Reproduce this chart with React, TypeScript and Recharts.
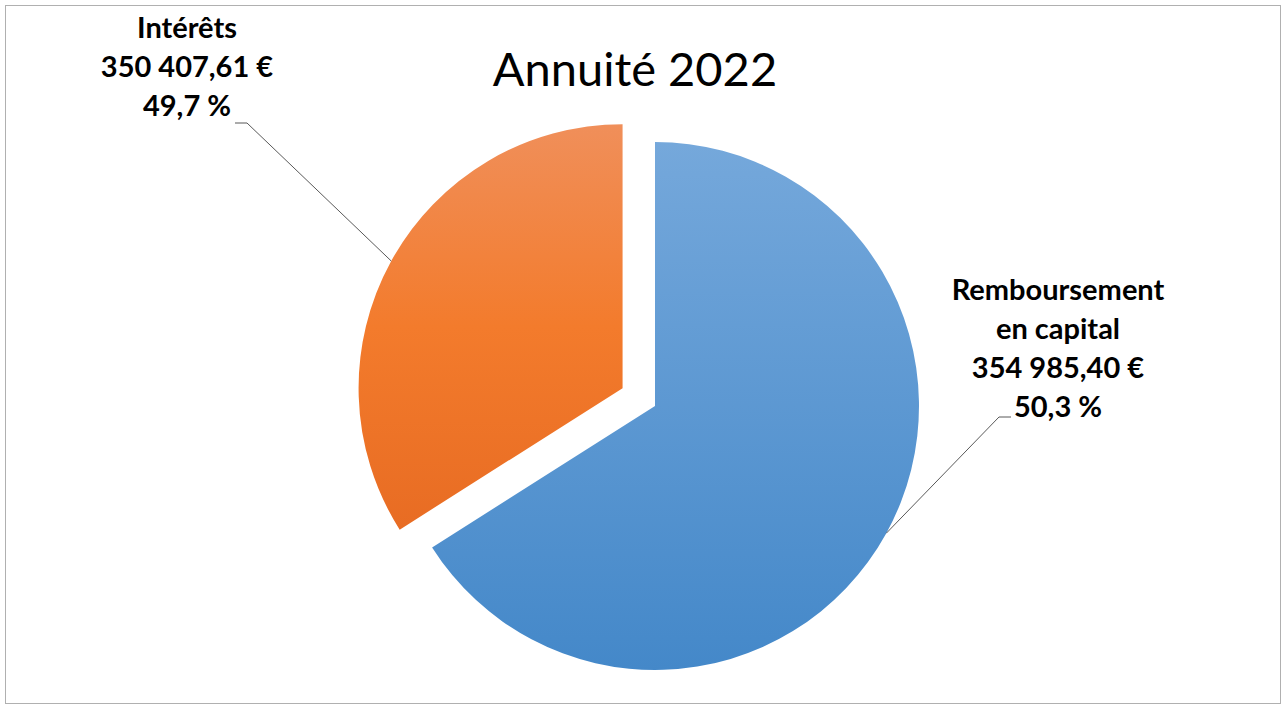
import React from 'react';
import { PieChart, Pie, Cell } from 'recharts';

// slice names, shares as drawn in the picture, and the texts printed in the labels
const names = ['Remboursement en capital', 'Intérêts'];
const sliceShares = [66, 34];
const amountLabels = ['354 985,40 €', '350 407,61 €'];
const percentLabels = ['50,3 %', '49,7 %'];
const labelLines = [['Remboursement', 'en capital'], ['Intérêts']];

const data = names.map((name, i) => ({ name, value: sliceShares[i] }));

const W = 1286;
const H = 709;
const CX = 655;
const CY = 406;
const R = 264;
const EXPLODE = 37;
const RADIAN = Math.PI / 180;
const FONT = 'Lato, "Open Sans", sans-serif';

// where each label sits (layout only)
const labelLayout = [
  { x: 1058, y: 300, elbow: [999, 417], end: [1011, 417] },
  { x: 187, y: 38, elbow: [247, 123], end: [235, 123] },
];

// mid angle of the exploded slice, from the data
const total = sliceShares.reduce((a, b) => a + b, 0);
const orangeMid = 90 - (360 * (sliceShares[0] + sliceShares[1] / 2)) / total;
const OX = CX + EXPLODE * Math.cos(orangeMid * RADIAN);
const OY = CY - EXPLODE * Math.sin(orangeMid * RADIAN);

const makeLabel = (only: number) => (props: any) => {
  const { cx, cy, midAngle, outerRadius, index } = props;
  if (index !== only) return null;
  const ex = cx + outerRadius * Math.cos(-midAngle * RADIAN);
  const ey = cy + outerRadius * Math.sin(-midAngle * RADIAN);
  const lay = labelLayout[index];
  const lines = [...labelLines[index], amountLabels[index], percentLabels[index]];
  return (
    <g key={`lbl-${index}`}>
      <path
        d={`M${ex},${ey}L${lay.elbow[0]},${lay.elbow[1]}L${lay.end[0]},${lay.end[1]}`}
        stroke="#595959"
        strokeWidth={1}
        fill="none"
      />
      <text
        x={lay.x}
        y={lay.y}
        textAnchor="middle"
        fontFamily={FONT}
        fontWeight="bold"
        fontSize={29}
        fill="#000"
      >
        {lines.map((t, i) => (
          <tspan key={i} x={lay.x} dy={i === 0 ? 0 : 39}>
            {t}
          </tspan>
        ))}
      </text>
    </g>
  );
};

export default function App() {
  return (
    <div style={{ position: 'absolute', left: 0, top: 0, width: W, height: H, background: '#fff' }}>
      <PieChart width={W} height={H} margin={{ top: 0, right: 0, bottom: 0, left: 0 }}>
        <defs>
          <linearGradient id="blueGrad" x1="0" y1="0" x2="0" y2="1">
            <stop offset="0%" stopColor="#75a8db" />
            <stop offset="100%" stopColor="#4488c9" />
          </linearGradient>
          <linearGradient id="orangeGrad" x1="0" y1="0" x2="0" y2="1">
            <stop offset="0%" stopColor="#f08f5a" />
            <stop offset="50%" stopColor="#f37b2c" />
            <stop offset="100%" stopColor="#e86c23" />
          </linearGradient>
        </defs>
        <rect x={5.5} y={5.5} width={1275} height={698} fill="#fff" stroke="#b0b0b0" strokeWidth={1} />
        <text x={635} y={86} textAnchor="middle" fontFamily={FONT} fontSize={47} fill="#000">
          Annuité 2022
        </text>
        <Pie
          data={data}
          dataKey="value"
          cx={CX}
          cy={CY}
          outerRadius={R}
          startAngle={90}
          endAngle={-270}
          stroke="none"
          labelLine={false}
          label={makeLabel(0)}
          isAnimationActive={false}
        >
          {data.map((d, i) => (
            <Cell key={`b-${i}`} fill={i === 0 ? 'url(#blueGrad)' : 'none'} stroke="none" />
          ))}
        </Pie>
        <Pie
          data={data}
          dataKey="value"
          cx={OX}
          cy={OY}
          outerRadius={R}
          startAngle={90}
          endAngle={-270}
          stroke="none"
          labelLine={false}
          label={makeLabel(1)}
          isAnimationActive={false}
        >
          {data.map((d, i) => (
            <Cell key={`o-${i}`} fill={i === 1 ? 'url(#orangeGrad)' : 'none'} stroke="none" />
          ))}
        </Pie>
      </PieChart>
    </div>
  );
}
